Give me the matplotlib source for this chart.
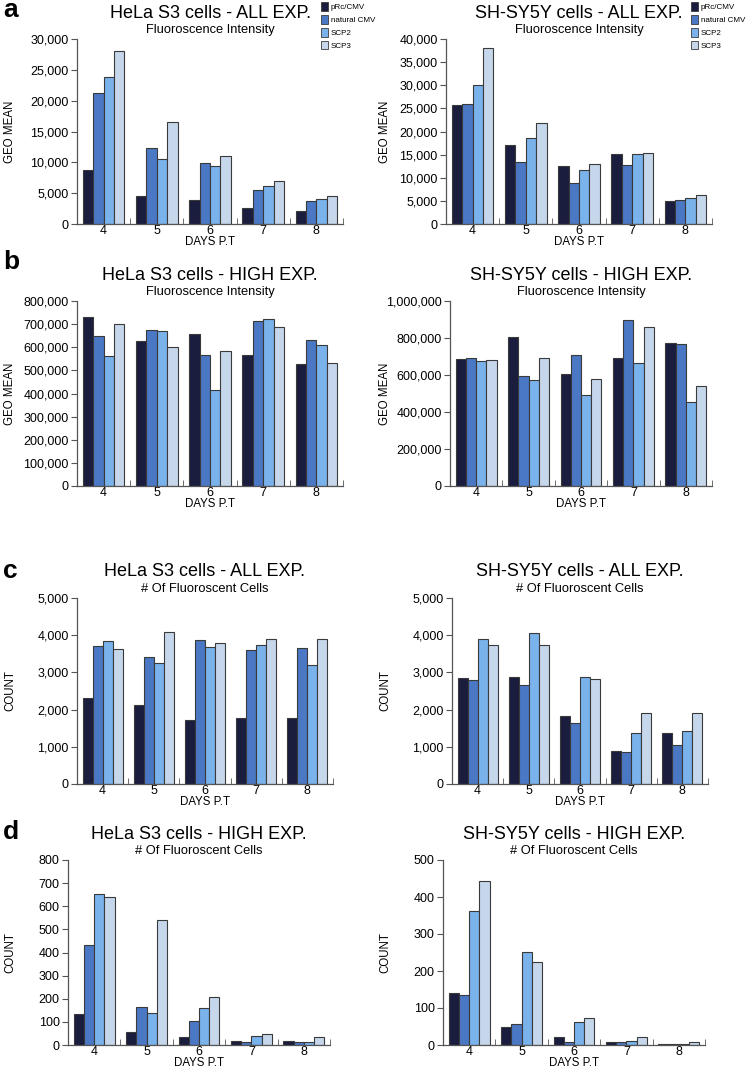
import numpy as np
import matplotlib.pyplot as plt
from matplotlib.patches import Patch

plt.rcParams['font.family'] = ['Liberation Sans', 'DejaVu Sans']

# Data
days = ['4', '5', '6', '7', '8']
constructs = ['pRc/CMV', 'natural CMV', 'SCP2', 'SCP3']
colors = ['#1a1d3d', '#4a78c4', '#7ab2ec', '#c6d7ec']

hela_all_int = [[8700, 4600, 3950, 2600, 2150],
                [21300, 12300, 9900, 5450, 3750],
                [23800, 10500, 9350, 6100, 4050],
                [28000, 16500, 10950, 6900, 4550]]
shsy_all_int = [[25800, 17000, 12600, 15200, 5000],
                [25900, 13500, 8800, 12700, 5200],
                [30000, 18600, 11700, 15100, 5600],
                [38000, 21800, 12900, 15400, 6300]]
hela_high_int = [[731000, 629000, 656000, 568000, 528000],
                 [647000, 675000, 567000, 713000, 631000],
                 [563000, 670000, 416000, 722000, 611000],
                 [699000, 601000, 582000, 688000, 534000]]
shsy_high_int = [[685000, 808000, 605000, 692000, 772000],
                 [690000, 595000, 706000, 895000, 768000],
                 [678000, 573000, 490000, 665000, 455000],
                 [682000, 692000, 578000, 862000, 542000]]
hela_all_cnt = [[2310, 2130, 1710, 1780, 1780],
                [3700, 3420, 3860, 3610, 3660],
                [3850, 3260, 3680, 3730, 3210],
                [3620, 4090, 3790, 3900, 3910]]
shsy_all_cnt = [[2840, 2880, 1830, 890, 1360],
                [2790, 2670, 1640, 870, 1050],
                [3910, 4070, 2880, 1380, 1430],
                [3740, 3740, 2830, 1900, 1910]]
hela_high_cnt = [[134, 55, 33, 17, 17],
                 [432, 164, 102, 14, 14],
                 [653, 137, 160, 37, 14],
                 [640, 539, 208, 46, 33]]
shsy_high_cnt = [[140, 49, 21, 9, 4],
                 [135, 57, 8, 7, 2],
                 [362, 251, 63, 11, 3],
                 [442, 224, 72, 22, 7]]

W, H = 749, 1070
fig = plt.figure(figsize=(W / 100, H / 100), dpi=100)


def px_axes(l, t, r, b):
    return fig.add_axes([l / W, 1 - b / H, (r - l) / W, (b - t) / H])


def bar_panel(ax, data, ymax, step, title, sub, ylabel, label_x):
    x = np.arange(len(days))
    bw = 0.195
    for i, vals in enumerate(data):
        ax.bar(x + (i - 1.5) * bw, vals, bw, color=colors[i],
               edgecolor='#3a3a3a', linewidth=0.8, zorder=2)
    ax.set_xlim(-0.5, 4.5)
    ax.set_ylim(0, ymax)
    ticks = np.arange(0, ymax + 1, step)
    ax.set_yticks(ticks)
    ax.set_yticklabels([f'{int(t):,}' for t in ticks], fontsize=9)
    ax.set_xticks(x)
    ax.set_xticklabels(days, fontsize=9)
    ax.set_xticks(np.arange(0.5, 5, 1), minor=True)
    ax.tick_params(axis='x', which='major', length=0, pad=1)
    ax.tick_params(axis='x', which='minor', direction='in', length=4, color='#555')
    ax.tick_params(axis='y', direction='out', length=4, color='#555', pad=2)
    for s in ['top', 'right']:
        ax.spines[s].set_visible(False)
    for s in ['left', 'bottom']:
        ax.spines[s].set_color('#555')
        ax.spines[s].set_linewidth(0.9)
    ax.set_xlabel('DAYS P.T', fontsize=8.3, labelpad=-1)
    ax.set_ylabel(ylabel, fontsize=8.3)
    pos = ax.get_position()
    ax.yaxis.set_label_coords(label_x / W, (pos.y0 + pos.y1) / 2,
                              transform=fig.transFigure)
    ax.text(0.5, 1.0 + 26 / 185, title, transform=ax.transAxes, ha='center',
            va='center', fontsize=13)
    ax.text(0.5, 1.0 + 9 / 185, sub, transform=ax.transAxes, ha='center',
            va='center', fontsize=9.3)


sub_int = 'Fluoroscence Intensity'
sub_cnt = '# Of Fluoroscent Cells'

ax1 = px_axes(77, 39, 343, 224)
bar_panel(ax1, hela_all_int, 30000, 5000, 'HeLa S3 cells - ALL EXP.', sub_int, 'GEO MEAN', 16)
ax2 = px_axes(446, 39, 712, 224)
bar_panel(ax2, shsy_all_int, 40000, 5000, 'SH-SY5Y cells - ALL EXP.', sub_int, 'GEO MEAN', 391)
ax3 = px_axes(77, 301, 343, 486)
bar_panel(ax3, hela_high_int, 800000, 100000, 'HeLa S3 cells - HIGH EXP.', sub_int, 'GEO MEAN', 16)
ax4 = px_axes(450, 301, 712, 486)
bar_panel(ax4, shsy_high_int, 1000000, 200000, 'SH-SY5Y cells - HIGH EXP.', sub_int, 'GEO MEAN', 391)
ax5 = px_axes(77, 598, 333, 784)
bar_panel(ax5, hela_all_cnt, 5000, 1000, 'HeLa S3 cells - ALL EXP.', sub_cnt, 'COUNT', 16)
ax6 = px_axes(452, 598, 708, 784)
bar_panel(ax6, shsy_all_cnt, 5000, 1000, 'SH-SY5Y cells - ALL EXP.', sub_cnt, 'COUNT', 391)
ax7 = px_axes(68, 860, 330, 1045)
bar_panel(ax7, hela_high_cnt, 800, 100, 'HeLa S3 cells - HIGH EXP.', sub_cnt, 'COUNT', 16)
ax8 = px_axes(443, 860, 705, 1045)
bar_panel(ax8, shsy_high_cnt, 500, 100, 'SH-SY5Y cells - HIGH EXP.', sub_cnt, 'COUNT', 391)

# Legends
handles = [Patch(facecolor=c, edgecolor='#3a3a3a', linewidth=0.6) for c in colors]
for lx in (321 / W, 691 / W):
    fig.legend(handles, constructs, loc='upper left', bbox_to_anchor=(lx, 1 - 2.5 / H),
               frameon=False, fontsize=5.8, handlelength=0.9, handleheight=1.2,
               handletextpad=0.3, labelspacing=0.5, borderpad=0, borderaxespad=0)

# Panel letters
for letter, y in [('a', 10), ('b', 262), ('c', 571), ('d', 832)]:
    fig.text(3 / W, 1 - y / H, letter, fontsize=19, fontweight='bold', va='center')

fig.savefig('out.png', dpi=100)
